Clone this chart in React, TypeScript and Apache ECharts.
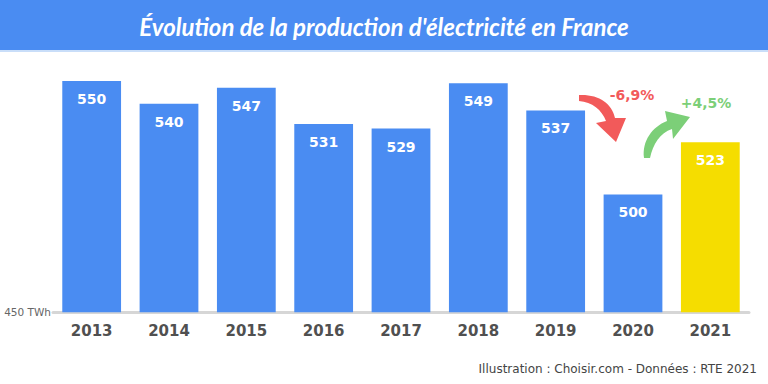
import React, { useEffect, useRef } from "react";
import * as echarts from "echarts";

const categories = ["2013", "2014", "2015", "2016", "2017", "2018", "2019", "2020", "2021"];
const production = [550, 540, 547, 531, 529, 549, 537, 500, 523];
const baseLabel = "450 TWh";
const changeDown = "-6,9%";
const changeUp = "+4,5%";
const titleText = "Évolution de la production d'électricité en France";
const footerText = "Illustration : Choisir.com - Données : RTE 2021";

const BLUE = "#4a8cf2";
const YELLOW = "#f5dd00";
const RED = "#f25a5a";
const GREEN = "#7ccf78";

echarts.graphic.registerShape(
  "arrowDown",
  echarts.graphic.extendPath(
    "M579,95 C598,94 612,103 615,118 L626,118 L616,142 L596,123 L606,121 C602,110 592,102 579,101 Z",
    {}
  )
);
echarts.graphic.registerShape(
  "arrowUp",
  echarts.graphic.extendPath(
    "M644,158 C642,141 652,127 667,121 L665,111 L690,117 L673,139 L672,129 C660,133 653,144 650,158 Z",
    {}
  )
);

export default function App() {
  const ref = useRef<HTMLDivElement>(null);
  useEffect(() => {
    const chart = echarts.init(ref.current!, null, { renderer: "svg" });
    const yMin = 448;
    chart.setOption({
      animation: false,
      backgroundColor: "#ffffff",
      grid: { left: 53, right: 19, top: 81, bottom: 71.7, containLabel: false },
      xAxis: {
        type: "category",
        data: categories,
        axisLine: { show: true, lineStyle: { color: "#d6d6d6", width: 3 } },
        axisTick: { show: false },
        axisLabel: {
          color: "#505050",
          fontFamily: "DejaVu Sans",
          fontWeight: "bold",
          fontSize: 15,
          margin: 11,
        },
      },
      yAxis: {
        type: "value",
        min: yMin,
        max: 550,
        axisLine: { show: false },
        axisTick: { show: false },
        splitLine: { show: false },
        axisLabel: {
          showMinLabel: true,
          showMaxLabel: false,
          margin: 2,
          color: "#666666",
          fontFamily: "DejaVu Sans",
          fontSize: 10.5,
          formatter: (v: number) => (v === yMin ? baseLabel : ""),
        },
      },
      series: [
        {
          type: "bar",
          barCategoryGap: "24%",
          data: production.map((v, i) =>
            i === production.length - 1 ? { value: v, itemStyle: { color: YELLOW } } : v
          ),
          itemStyle: { color: BLUE },
          label: {
            show: true,
            position: "insideTop",
            distance: 11,
            color: "#ffffff",
            fontFamily: "DejaVu Sans",
            fontWeight: "bold",
            fontSize: 14,
          },
        },
      ],
      graphic: [
        { type: "rect", shape: { x: 0, y: 0, width: 768, height: 50 }, style: { fill: BLUE } },
        { type: "rect", shape: { x: 0, y: 50, width: 768, height: 2 }, style: { fill: "#c9def9" } },
        {
          type: "text",
          x: 384,
          y: 26,
          style: {
            text: titleText,
            fill: "#ffffff",
            font: "italic bold 24px Lato",
            align: "center",
            verticalAlign: "middle",
          },
        },
        { type: "arrowDown", x: 0, y: 0, style: { fill: RED } },
        { type: "arrowUp", x: 0, y: 0, style: { fill: GREEN } },
        {
          type: "text",
          x: 632,
          y: 95,
          style: {
            text: changeDown,
            fill: RED,
            font: "bold 14px DejaVu Sans",
            align: "center",
            verticalAlign: "middle",
          },
        },
        {
          type: "text",
          x: 706,
          y: 103,
          style: {
            text: changeUp,
            fill: GREEN,
            font: "bold 14px DejaVu Sans",
            align: "center",
            verticalAlign: "middle",
          },
        },
        {
          type: "text",
          x: 757,
          y: 369,
          style: {
            text: footerText,
            fill: "#444444",
            font: "12px 'DejaVu Sans'",
            align: "right",
            verticalAlign: "middle",
          },
        },
      ],
    });
    return () => chart.dispose();
  }, []);
  return <div ref={ref} style={{ width: 768, height: 384, position: "absolute", left: 0, top: 0 }} />;
}
